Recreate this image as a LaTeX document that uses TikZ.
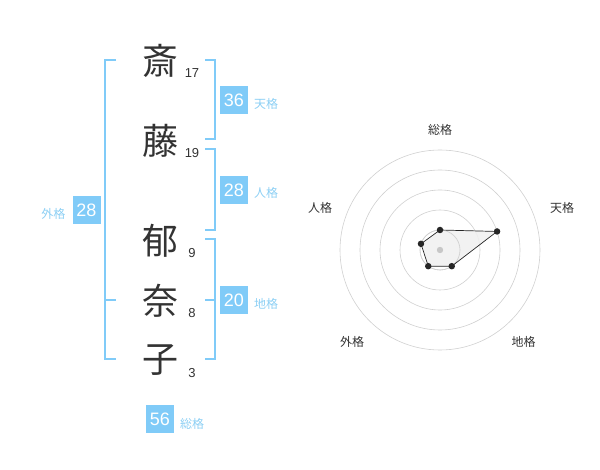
\documentclass[tikz,border=0pt]{standalone}
\usepackage{fontspec}
\usetikzlibrary{calc}
\setmainfont{Liberation Sans}
\newfontfamily\jp{Noto Sans CJK JP}
\definecolor{bl}{HTML}{80CBF8}
\definecolor{bltxt}{HTML}{8CCFF4}
\definecolor{ink}{HTML}{333333}
\definecolor{ring}{HTML}{D0D0D0}
\begin{document}
\begin{tikzpicture}[x=1pt,y=-1pt,
  kanji/.style={font=\jp\fontsize{36}{36}\selectfont, text=ink, inner sep=0pt},
  snum/.style={font=\fontsize{13}{13}\selectfont, text=ink, inner sep=0pt},
  badge/.style={fill=bl, minimum size=28pt, inner sep=0pt, text=white, font=\fontsize{18}{18}\selectfont},
  lbl/.style={font=\jp\fontsize{12}{12}\selectfont, text=bltxt, inner sep=0pt},
  rlbl/.style={font=\jp\fontsize{12}{12}\selectfont, text=ink, inner sep=0pt},
  brk/.style={draw=bl, line width=2pt},
  ringst/.style={draw=ring, line width=0.6pt},
  dot/.style={circle, fill=black!85, minimum size=6.5pt, inner sep=0pt}]
\useasboundingbox (0,0) rectangle (600,470);
% characters
\node[kanji] (k1) at (160,61) {斎};
\node[kanji] (k2) at (160,141) {藤};
\node[kanji] (k3) at (160,241) {郁};
\node[kanji] (k4) at (160,301) {奈};
\node[kanji] (k5) at (160,360) {子};
\node[snum] (n1) at (192,73) {17};
\node[snum] (n2) at (192,153) {19};
\node[snum] (n3) at (192,253) {9};
\node[snum] (n4) at (192,313) {8};
\node[snum] (n5) at (192,373) {3};
% brackets
\draw[brk] (116,60) -- (105,60) -- (105,359.5) -- (116,359.5);
\draw[brk] (105,300) -- (116,300);
\draw[brk] (205,60) -- (214.5,60) -- (214.5,139.5) -- (205,139.5);
\draw[brk] (205,149.5) -- (214.5,149.5) -- (214.5,230) -- (205,230);
\draw[brk] (205,239.5) -- (214.5,239.5) -- (214.5,359.5) -- (205,359.5);
\draw[brk] (205,300) -- (214.5,300);
% badges
\node[badge] (b1) at (234,100) {36};
\node[lbl] (l1) at (266,104) {天格};
\node[badge] (b2) at (234,190) {28};
\node[lbl] (l2) at (266,193) {人格};
\node[badge] (b3) at (234,300) {20};
\node[lbl] (l3) at (266,304) {地格};
\node[badge] (b4) at (86.5,210) {28};
\node[lbl] (l4) at (53.5,213.5) {外格};
\node[badge] (b5) at (160,419) {56};
\node[lbl] (l5) at (192,423.5) {総格};
% radar
\coordinate (c) at (440,250);
\foreach \r in {20,40,60,80,100} \draw[ringst] (c) circle[radius=\r];
\fill[black!6, opacity=0.85] ($(c)+(-90:20)$) -- ($(c)+(-18:60)$) -- ($(c)+(54:20)$) -- ($(c)+(126:20)$) -- ($(c)+(198:20)$) -- cycle;
\draw[ringst] (c) circle[radius=20];
\fill[black!22] (c) circle[radius=3.2];
\node[dot] (p1) at ($(c)+(-90:20)$) {};
\node[dot] (p2) at ($(c)+(-18:60)$) {};
\node[dot] (p3) at ($(c)+(54:20)$) {};
\node[dot] (p4) at ($(c)+(126:20)$) {};
\node[dot] (p5) at ($(c)+(198:20)$) {};
\draw[black!85, line width=0.7pt] (p1.center) -- (p2.center) -- (p3.center) -- (p4.center) -- (p5.center) -- cycle;
\node[rlbl] (r1) at (440,130) {総格};
\node[rlbl] (r2) at (562,208) {天格};
\node[rlbl] (r3) at (320,208) {人格};
\node[rlbl] (r4) at (352,342) {外格};
\node[rlbl] (r5) at (523.5,342) {地格};
\end{tikzpicture}
\end{document}
